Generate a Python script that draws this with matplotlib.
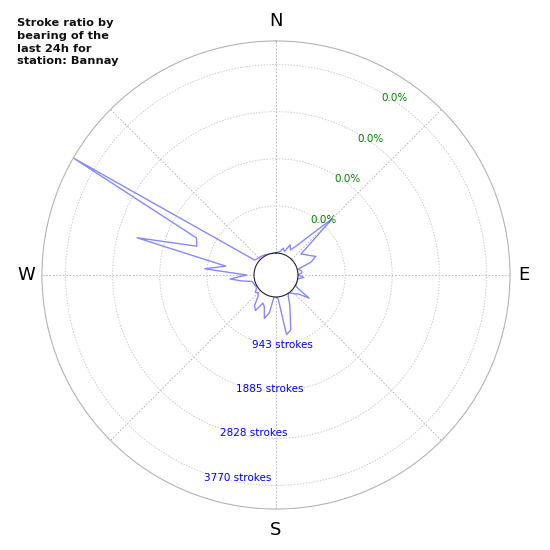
import numpy as np
import matplotlib
matplotlib.use('Agg')
import matplotlib.pyplot as plt

# bearings (deg, clockwise from N) and stroke counts per 5 deg bin
bearings = list(range(0, 360, 5))
strokes = [0, 20, 40, 115, 60, 225, 140, 270, 550, 1160,
           210, 270, 340, 440, 300, 20, 70, 80, 0, 120,
           0, 0, 0, 0, 20, 370, 150, 100, 30, 0,
           50, 210, 390, 700, 770, 30, 0, 0, 330, 460,
           240, 180, 380, 310, 120, 60, 100, 40, 20, 30,
           40, 60, 250, 480, 150, 990, 580, 2440, 1245, 1315,
           4242, 80, 60, 50, 40, 30, 20, 10, 0, 0,
           0, 0]
r_ticks = [943, 1885, 2828, 3770]
r_labels = ['943 strokes', '1885 strokes', '2828 strokes', '3770 strokes']
pct_labels = ['0.0%', '0.0%', '0.0%', '0.0%']
dir_names = ['N', 'E', 'S', 'W']
dir_angles = [0, 90, 180, 270]
rmax = 4242
rorig = 440
title = "Stroke ratio by\nbearing of the\nlast 24h for\nstation: Bannay"

fig = plt.figure(figsize=(5.5, 5.5), dpi=100)
ax = fig.add_axes([0.5018 - 0.4255, 0.5 - 0.4255, 0.851, 0.851], projection='polar')
ax.set_theta_zero_location('N')
ax.set_theta_direction(-1)
ax.set_ylim(0, rmax)
ax.set_rorigin(-rorig)

th = np.radians(bearings + [bearings[0]])
ax.plot(th, strokes + [strokes[0]], color='#8888ff', lw=1)

ax.set_thetagrids(range(0, 360, 45), labels=[''] * 8)
ax.set_rgrids(r_ticks, labels=[''] * 4)
ax.xaxis.grid(True, color='#b0b0b0', ls=(0, (2, 2)), lw=0.6)
ax.yaxis.grid(True, color='#cccccc', ls=(0, (1.5, 1.5)), lw=0.7)
ax.spines['polar'].set_color('#b4b4b4')
ax.spines['polar'].set_linewidth(0.8)
ax.spines['inner'].set_visible(True)
ax.spines['inner'].set_color('#222222')
ax.spines['inner'].set_linewidth(0.8)

# compass letters just outside the rim (pixel distance from centre)
px = (rmax + rorig) / 234.0
for name, ang, dist in zip(dir_names, dir_angles, [254, 248, 255, 250]):
    ax.text(np.radians(ang), dist * px - rorig, name, fontsize=13,
            ha='center', va='center', clip_on=False)

for r, lab in zip(r_ticks, r_labels):
    ax.text(np.radians(200), r, lab, color='blue', fontsize=7.5, ha='left', va='top')
for r, lab in zip(r_ticks, pct_labels):
    ax.text(np.radians(30), r, lab, color='green', fontsize=7.5, ha='left', va='top')

fig.text(0.031, 1 - 18 / 550, title, fontsize=8.2, fontweight='bold',
         ha='left', va='top', linespacing=1.35, color='#111111')

fig.savefig('out.png')
